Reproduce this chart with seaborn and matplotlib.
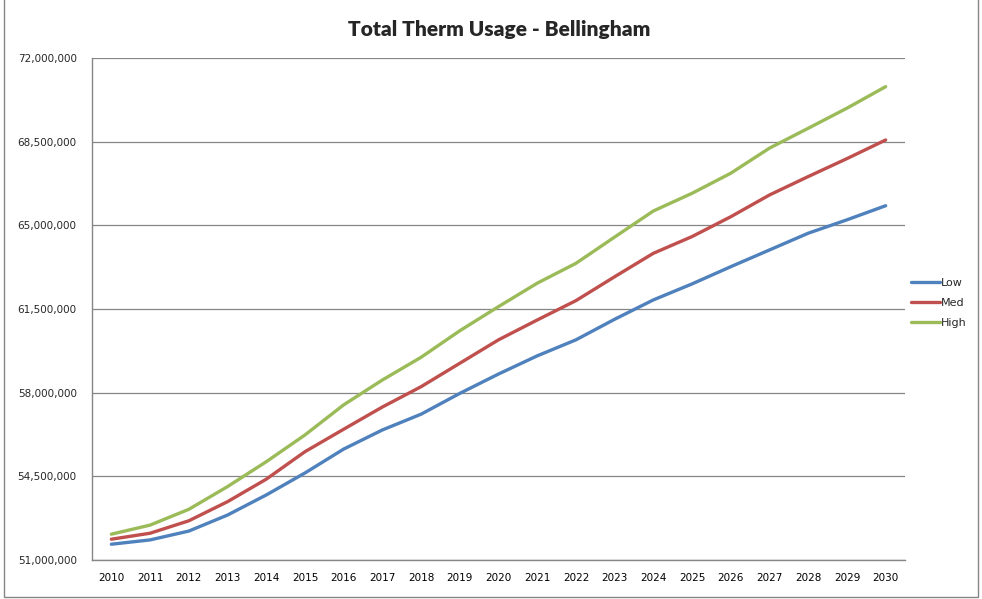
import pandas as pd
import numpy as np
import seaborn as sns
import matplotlib
import matplotlib.pyplot as plt
from matplotlib.ticker import FuncFormatter, FixedLocator
from matplotlib.patches import Rectangle

matplotlib.use('Agg')
sns.set_style("white")
plt.rcParams['font.family'] = ['DejaVu Sans']

# -------------------------------Datos (millones de termias)
years = list(range(2010, 2031))
low = [51.66, 51.84, 52.21, 52.88, 53.72, 54.64, 55.64, 56.44, 57.10, 57.97, 58.78,
       59.54, 60.21, 61.07, 61.88, 62.55, 63.27, 63.97, 64.67, 65.23, 65.82]
med = [51.87, 52.12, 52.64, 53.44, 54.38, 55.53, 56.47, 57.40, 58.25, 59.23, 60.21,
       61.04, 61.85, 62.85, 63.83, 64.53, 65.36, 66.27, 67.04, 67.79, 68.57]
high = [52.08, 52.46, 53.12, 54.07, 55.11, 56.23, 57.49, 58.53, 59.48, 60.59, 61.60,
        62.58, 63.41, 64.51, 65.60, 66.34, 67.18, 68.23, 69.06, 69.90, 70.80]
y_ticks = [51e6, 54.5e6, 58e6, 61.5e6, 65e6, 68.5e6, 72e6]
series_names = ['Low', 'Med', 'High']
colors = ['#4F81BD', '#C0504D', '#9BBB59']

df = pd.DataFrame({'Year': years, 'Low': low, 'Med': med, 'High': high})
df = df.melt('Year', var_name='Scenario', value_name='Therms')
df['Therms'] = df['Therms'] * 1e6

fig = plt.figure(figsize=(9.82, 5.99), dpi=100)
ax = fig.add_axes([0.0937, 0.0651, 0.8279, 0.8381])

sns.lineplot(data=df, x='Year', y='Therms', hue='Scenario', hue_order=series_names,
             palette=colors, linewidth=2.4, ax=ax)

# Ejes
ax.set_xlim(2009.5, 2030.5)
ax.set_ylim(y_ticks[0], y_ticks[-1])
ax.yaxis.set_major_locator(FixedLocator(y_ticks))
ax.yaxis.set_major_formatter(FuncFormatter(lambda v, p: f'{v:,.0f}'))
ax.xaxis.set_major_locator(FixedLocator(years))
ax.xaxis.set_minor_locator(FixedLocator([y - 0.5 for y in years] + [2030.5]))
ax.set_xticklabels([str(y) for y in years])
ax.tick_params(axis='x', which='major', length=0, labelsize=7.5, pad=9, colors='#000000')
ax.tick_params(axis='x', which='minor', length=5, color='#868686', width=1)
ax.tick_params(axis='y', which='major', length=5, color='#868686', width=1, labelsize=7.5, pad=6)
ax.grid(True, axis='y', color='#868686', linewidth=0.9)
ax.grid(False, axis='x')
for side in ['top', 'right']:
    ax.spines[side].set_visible(False)
for side in ['left', 'bottom']:
    ax.spines[side].set_color('#868686')
    ax.spines[side].set_linewidth(1)
ax.set_xlabel('')
ax.set_ylabel('')

# Leyenda
leg = ax.legend(loc='center left', bbox_to_anchor=(0.995, 0.512), frameon=False,
                fontsize=8, handlelength=2.6, handletextpad=0.1, labelspacing=0.9)
for line in leg.get_lines():
    line.set_linewidth(2.4)

fig.text(0.508, 0.95, 'Total Therm Usage - Bellingham', ha='center', va='center',
         fontsize=15, fontweight='heavy', family=['Lato', 'DejaVu Sans'])

# Borde del gráfico
fig.patches.append(Rectangle((0.004, 0.004), 0.992, 1.2, transform=fig.transFigure,
                             fill=False, edgecolor='#868686', linewidth=1))

plt.savefig('out.png', dpi=100)
